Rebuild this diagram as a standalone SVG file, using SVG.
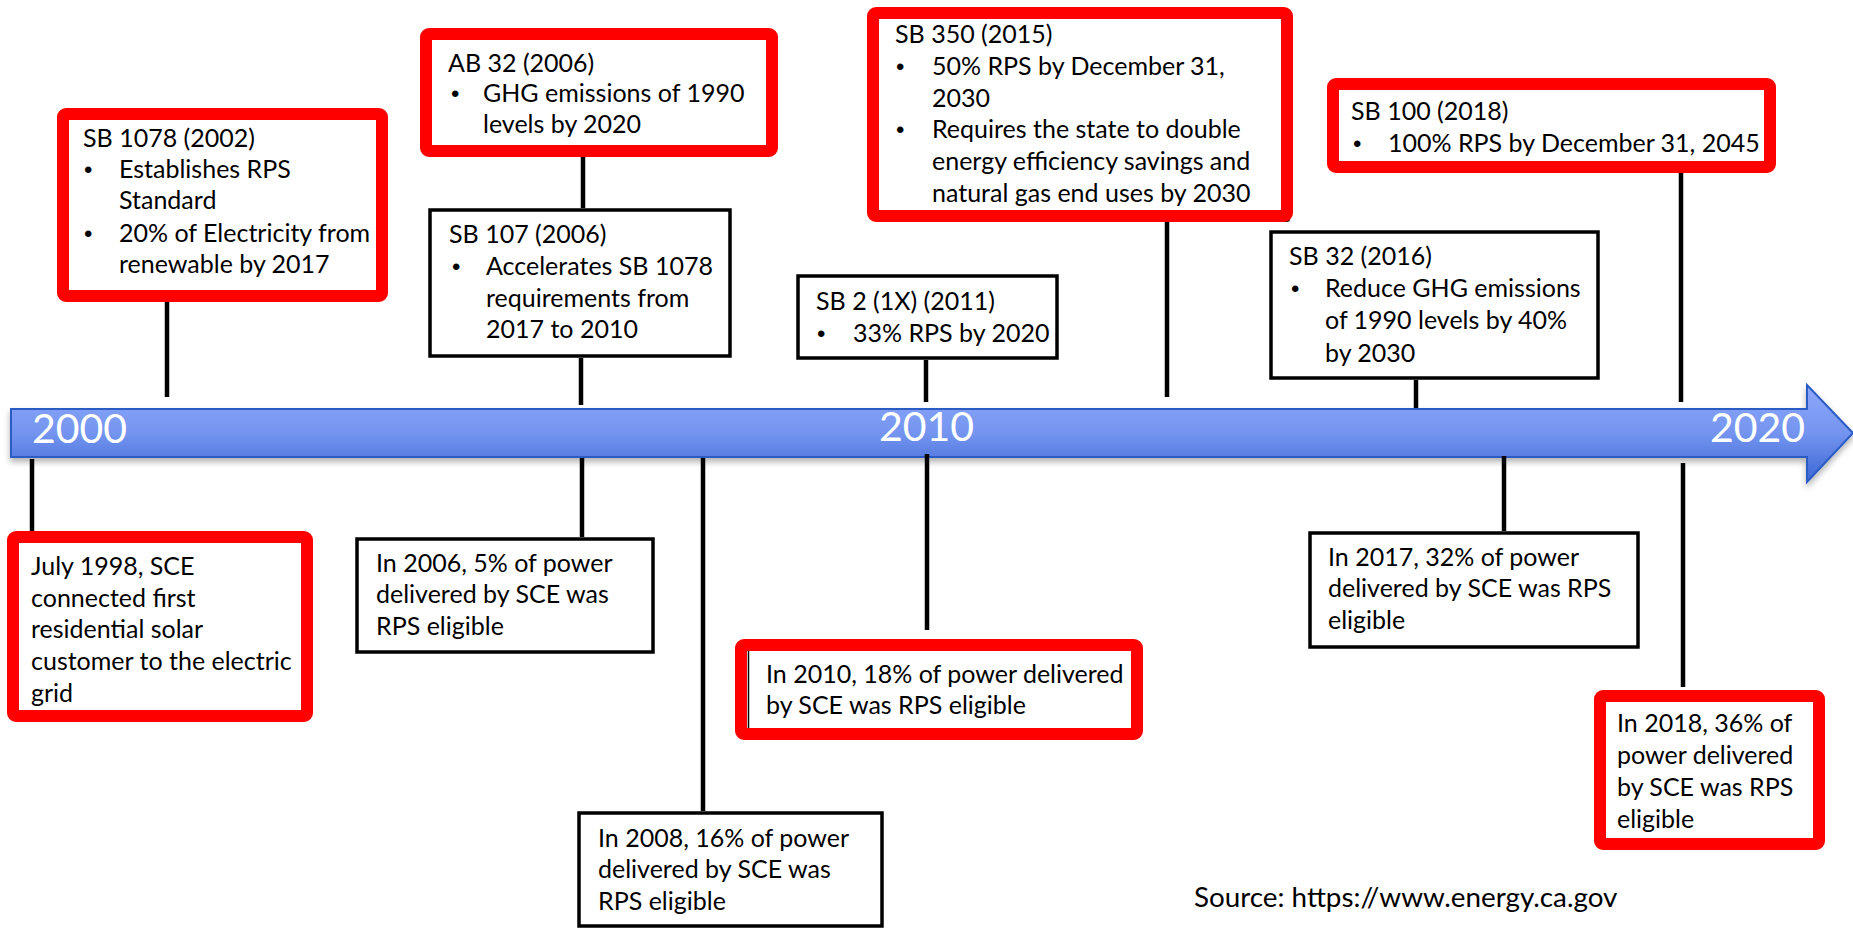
<svg xmlns="http://www.w3.org/2000/svg" width="1853" height="929" viewBox="0 0 1853 929">
<style>
  .t { font-family: Lato, "Liberation Sans", sans-serif; font-size: 25px; fill: #000; }
  .b { font-family: "Liberation Sans", sans-serif; font-size: 24px; fill: #000; }
  .src { font-family: Lato, "Liberation Sans", sans-serif; font-size: 27.8px; fill: #000; }
  .yr { font-family: Lato, "Liberation Sans", sans-serif; font-size: 41px; fill: #fff; }
  .red { fill: #fff; stroke: #ff0000; stroke-width: 12; }
  .blk { fill: #fff; stroke: #000; stroke-width: 3.5; }
  .con { stroke: #000; stroke-width: 4.5; fill: none; }
</style>
<defs>
  <linearGradient id="barGrad" x1="0" y1="0" x2="0" y2="1">
    <stop offset="0" stop-color="#8fa9fb"/>
    <stop offset="0.5" stop-color="#7394ef"/>
    <stop offset="1" stop-color="#3d66d6"/>
  </linearGradient>
  <filter id="shadow" x="-5%" y="-20%" width="110%" height="160%">
    <feDropShadow dx="0" dy="4" stdDeviation="3" flood-color="#000" flood-opacity="0.3"/>
  </filter>
</defs>
<rect width="1853" height="929" fill="#fff"/>

<g id="timeline">
  <path d="M11,409 H1807 V385 L1853,433 L1807,482 V457 H11 Z" fill="url(#barGrad)" stroke="#2b5cc4" stroke-width="2" filter="url(#shadow)"/>
  <text class="yr" x="32" y="443">2000</text>
  <text class="yr" x="879" y="441">2010</text>
  <text class="yr" x="1710" y="442">2020</text>
</g>

<g id="connectors">
  <line class="con" x1="167" y1="302" x2="167" y2="397"/>
  <line class="con" x1="583" y1="157" x2="583" y2="208"/>
  <line class="con" x1="581" y1="358" x2="581" y2="405"/>
  <line class="con" x1="1167" y1="222" x2="1167" y2="397"/>
  <line class="con" x1="926" y1="360" x2="926" y2="402"/>
  <line class="con" x1="1681" y1="173" x2="1681" y2="402"/>
  <line class="con" x1="1416" y1="380" x2="1416" y2="408"/>
  <line class="con" x1="32" y1="459" x2="32" y2="533"/>
  <line class="con" x1="582" y1="458" x2="582" y2="537"/>
  <line class="con" x1="703" y1="458" x2="703" y2="811"/>
  <line class="con" x1="927" y1="454" x2="927" y2="630"/>
  <line class="con" x1="1504" y1="456" x2="1504" y2="531"/>
  <line class="con" x1="1683" y1="463" x2="1683" y2="687"/>
</g>

<g id="sb1078">
  <rect class="red" x="63" y="114" width="319" height="182" rx="3"/>
  <text class="t" x="83" y="147">SB 1078 (2002)</text>
  <text class="b" x="84" y="178">•</text>
  <text class="t" x="119" y="178">Establishes RPS</text>
  <text class="t" x="119" y="209">Standard</text>
  <text class="b" x="84" y="242">•</text>
  <text class="t" x="119" y="242">20% of Electricity from</text>
  <text class="t" x="119" y="273">renewable by 2017</text>
</g>

<g id="ab32">
  <rect class="red" x="426" y="34" width="346" height="117" rx="3"/>
  <text class="t" x="448" y="72">AB 32 (2006)</text>
  <text class="b" x="451" y="102">•</text>
  <text class="t" x="483" y="102">GHG emissions of 1990</text>
  <text class="t" x="483" y="133">levels by 2020</text>
</g>

<g id="sb107">
  <rect class="blk" x="430" y="210" width="300" height="146"/>
  <text class="t" x="449" y="243">SB 107 (2006)</text>
  <text class="b" x="452" y="275">•</text>
  <text class="t" x="486" y="275">Accelerates SB 1078</text>
  <text class="t" x="486" y="307">requirements from</text>
  <text class="t" x="486" y="338">2017 to 2010</text>
</g>

<g id="sb350">
  <rect x="876" y="16" width="414" height="206" fill="#111" rx="3"/>
  <rect class="red" x="873" y="13" width="414" height="203" rx="3"/>
  <text class="t" x="895" y="43">SB 350 (2015)</text>
  <text class="b" x="896" y="75">•</text>
  <text class="t" x="932" y="75">50% RPS by December 31,</text>
  <text class="t" x="932" y="107">2030</text>
  <text class="b" x="896" y="138">•</text>
  <text class="t" x="932" y="138">Requires the state to double</text>
  <text class="t" x="932" y="170">energy efficiency savings and</text>
  <text class="t" x="932" y="202">natural gas end uses by 2030</text>
</g>

<g id="sb2">
  <rect class="blk" x="798" y="276" width="259" height="82"/>
  <text class="t" x="816" y="310">SB 2 (1X) (2011)</text>
  <text class="b" x="817" y="342">•</text>
  <text class="t" x="853" y="342">33% RPS by 2020</text>
</g>

<g id="sb100">
  <rect class="red" x="1333" y="84" width="437" height="83" rx="3"/>
  <text class="t" x="1351" y="120">SB 100 (2018)</text>
  <text class="b" x="1353" y="152">•</text>
  <text class="t" x="1388" y="152">100% RPS by December 31, 2045</text>
</g>

<g id="sb32">
  <rect class="blk" x="1271" y="232" width="327" height="146"/>
  <text class="t" x="1289" y="265">SB 32 (2016)</text>
  <text class="b" x="1291" y="297">•</text>
  <text class="t" x="1325" y="297">Reduce GHG emissions</text>
  <text class="t" x="1325" y="329">of 1990 levels by 40%</text>
  <text class="t" x="1325" y="362">by 2030</text>
</g>

<g id="july1998">
  <rect class="red" x="13" y="537" width="294" height="179" rx="3"/>
  <text class="t" x="31" y="575">July 1998, SCE</text>
  <text class="t" x="31" y="607">connected first</text>
  <text class="t" x="31" y="638">residential solar</text>
  <text class="t" x="31" y="670">customer to the electric</text>
  <text class="t" x="31" y="702">grid</text>
</g>

<g id="in2006">
  <rect class="blk" x="357" y="539" width="296" height="113"/>
  <text class="t" x="376" y="572">In 2006, 5% of power</text>
  <text class="t" x="376" y="603">delivered by SCE was</text>
  <text class="t" x="376" y="635">RPS eligible</text>
</g>

<g id="in2008">
  <rect class="blk" x="579" y="813" width="303" height="113"/>
  <text class="t" x="598" y="847">In 2008, 16% of power</text>
  <text class="t" x="598" y="878">delivered by SCE was</text>
  <text class="t" x="598" y="910">RPS eligible</text>
</g>

<g id="in2010">
  <rect class="red" x="741" y="645" width="396" height="89" rx="3"/>
  <line x1="748.5" y1="651" x2="748.5" y2="728" stroke="#000" stroke-width="1.5"/>
  <text class="t" x="766" y="683">In 2010, 18% of power delivered</text>
  <text class="t" x="766" y="714">by SCE was RPS eligible</text>
</g>

<g id="in2017">
  <rect class="blk" x="1310" y="533" width="328" height="114"/>
  <text class="t" x="1328" y="566">In 2017, 32% of power</text>
  <text class="t" x="1328" y="597">delivered by SCE was RPS</text>
  <text class="t" x="1328" y="629">eligible</text>
</g>

<g id="in2018">
  <rect class="red" x="1600" y="696" width="219" height="148" rx="3"/>
  <text class="t" x="1617" y="732">In 2018, 36% of</text>
  <text class="t" x="1617" y="764">power delivered</text>
  <text class="t" x="1617" y="796">by SCE was RPS</text>
  <text class="t" x="1617" y="828">eligible</text>
</g>

<g id="source">
  <text class="src" x="1194" y="907">Source: https://www.energy.ca.gov</text>
</g>
</svg>
